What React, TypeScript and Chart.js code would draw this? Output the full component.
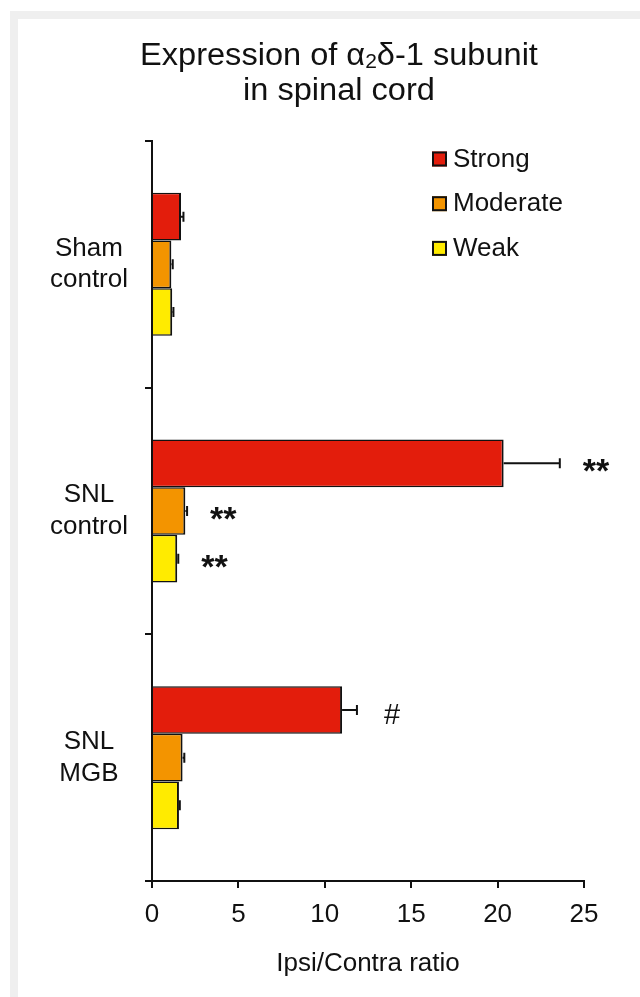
import React, { useEffect, useRef } from 'react';
import { Chart, registerables } from 'chart.js';

Chart.register(...registerables);

// ---- data ----
const categories = [['Sham', 'control'], ['SNL', 'control'], ['SNL', 'MGB']];
const seriesNames = ['Strong', 'Moderate', 'Weak'];
const strongValues = [1.68, 20.35, 11.0];
const strongErrors = [0.14, 3.25, 0.86];
const strongMarks = ['', '**', '#'];
const moderateValues = [1.12, 1.93, 1.77];
const moderateErrors = [0.08, 0.1, 0.1];
const moderateMarks = ['', '**', ''];
const weakValues = [1.17, 1.46, 1.56];
const weakErrors = [0.07, 0.06, 0.05];
const weakMarks = ['', '**', ''];
const xMin = 0;
const xMax = 25;
const xStep = 5;
const xTitle = 'Ipsi/Contra ratio';
const titleLine1 = ['Expression of α', '2', 'δ-1 subunit'];
const titleLine2 = 'in spinal cord';

// ---- styles ----
const FONT = '"Liberation Sans", Arial, Helvetica, sans-serif';
const INK = '#111111';
const colors = ['#e31d0c', '#f39400', '#ffeb00'];

const titlePlugin = {
  id: 'customTitle',
  afterDraw(chart: any) {
    const ctx = chart.ctx;
    ctx.save();
    const cx = 339;
    const sx = 1.05;
    ctx.translate(cx, 0);
    ctx.scale(sx, 1);
    ctx.fillStyle = INK;
    ctx.textBaseline = 'alphabetic';
    const big = `31px ${FONT}`;
    const small = `20px ${FONT}`;
    ctx.font = big;
    const w0 = ctx.measureText(titleLine1[0]).width;
    const w2 = ctx.measureText(titleLine1[2]).width;
    ctx.font = small;
    const w1 = ctx.measureText(titleLine1[1]).width;
    let x = -(w0 + w1 + w2) / 2;
    ctx.textAlign = 'left';
    ctx.font = big;
    ctx.fillText(titleLine1[0], x, 65);
    x += w0;
    ctx.font = small;
    ctx.fillText(titleLine1[1], x, 68);
    x += w1;
    ctx.font = big;
    ctx.fillText(titleLine1[2], x, 65);
    ctx.textAlign = 'center';
    ctx.fillText(titleLine2, 0, 100);
    ctx.restore();
  },
};

const legendPlugin = {
  id: 'customLegend',
  afterDraw(chart: any) {
    const ctx = chart.ctx;
    ctx.save();
    chart.data.datasets.forEach((ds: any, i: number) => {
      const cy = 159 + i * 44.7;
      ctx.fillStyle = ds.backgroundColor;
      ctx.fillRect(432, cy - 7.5, 15, 15);
      ctx.strokeStyle = INK;
      ctx.lineWidth = 2;
      ctx.strokeRect(433, cy - 6.5, 13, 13);
      ctx.fillStyle = INK;
      ctx.font = `26px ${FONT}`;
      ctx.textAlign = 'left';
      ctx.textBaseline = 'alphabetic';
      ctx.fillText(ds.label, 453, cy + 7.5);
    });
    ctx.restore();
  },
};

const errorPlugin = {
  id: 'errorBars',
  afterDatasetsDraw(chart: any) {
    const ctx = chart.ctx;
    const xs = chart.scales.x;
    ctx.save();
    chart.data.datasets.forEach((ds: any, di: number) => {
      const meta = chart.getDatasetMeta(di);
      meta.data.forEach((bar: any, i: number) => {
        const v = ds.data[i];
        const e = ds.errors[i];
        const x0 = xs.getPixelForValue(v);
        const x1 = xs.getPixelForValue(v + e);
        const y = bar.y;
        ctx.strokeStyle = INK;
        ctx.lineWidth = 2;
        ctx.beginPath();
        ctx.moveTo(x0, y);
        ctx.lineTo(x1, y);
        ctx.moveTo(x1, y - 5);
        ctx.lineTo(x1, y + 5);
        ctx.stroke();
        const m = ds.marks[i];
        if (m) {
          ctx.fillStyle = INK;
          ctx.textAlign = 'left';
          ctx.textBaseline = 'alphabetic';
          if (m.includes('*')) {
            ctx.font = `bold 34px ${FONT}`;
            ctx.fillText(m, x1 + 23, y + 19);
          } else {
            ctx.font = `29px ${FONT}`;
            ctx.fillText(m, x1 + 27, y + 14);
          }
        }
      });
    });
    ctx.restore();
  },
};

export default function App() {
  const ref = useRef<HTMLCanvasElement>(null);

  useEffect(() => {
    document.body.style.margin = '0';
    if (!ref.current) return;
    const valueSets = [strongValues, moderateValues, weakValues];
    const errSets = [strongErrors, moderateErrors, weakErrors];
    const markSets = [strongMarks, moderateMarks, weakMarks];
    const chart = new Chart(ref.current, {
      type: 'bar',
      data: {
        labels: categories as any,
        datasets: seriesNames.map((name, i) => ({
          label: name,
          data: valueSets[i],
          errors: errSets[i],
          marks: markSets[i],
          backgroundColor: colors[i],
          borderColor: INK,
          borderWidth: { top: 1.5, bottom: 1.5, right: 2, left: 0 },
          borderSkipped: 'start',
          categoryPercentage: 0.58,
          barPercentage: 1,
        })) as any,
      },
      options: {
        indexAxis: 'y',
        animation: false,
        responsive: false,
        devicePixelRatio: 1,
        layout: { padding: { top: 141, right: 56, bottom: 0, left: 0 } },
        plugins: {
          legend: { display: false },
          title: { display: false },
          tooltip: { enabled: false },
        },
        scales: {
          x: {
            type: 'linear',
            min: xMin,
            max: xMax,
            ticks: {
              stepSize: xStep,
              color: INK,
              font: { family: FONT, size: 26 },
              padding: 11,
            },
            grid: {
              drawOnChartArea: false,
              drawTicks: true,
              tickLength: 7,
              color: INK,
              lineWidth: 2,
            },
            border: { display: true, color: INK, width: 2 },
            title: {
              display: true,
              text: xTitle,
              color: INK,
              font: { family: FONT, size: 26 },
              padding: { top: 0, bottom: 18 },
            },
            afterFit(scale: any) {
              scale.height = 116;
            },
          },
          y: {
            type: 'category',
            offset: true,
            ticks: {
              color: INK,
              font: { family: FONT, size: 26, lineHeight: 1.22 },
              crossAlign: 'center',
              padding: 17,
              autoSkip: false,
            },
            grid: {
              offset: true,
              drawOnChartArea: false,
              drawTicks: true,
              tickLength: 7,
              color: INK,
              lineWidth: 2,
            },
            border: { display: true, color: INK, width: 2 },
            afterFit(scale: any) {
              scale.width = 152;
            },
          },
        },
      } as any,
      plugins: [titlePlugin, legendPlugin, errorPlugin],
    });
    return () => chart.destroy();
  }, []);

  return (
    <div style={{ position: 'relative', width: 640, height: 997, overflow: 'hidden', background: '#ffffff' }}>
      <div
        style={{
          position: 'absolute',
          left: 10,
          top: 11,
          width: 630,
          height: 986,
          boxSizing: 'border-box',
          borderTop: '8px solid #efefef',
          borderLeft: '8px solid #efefef',
          background: '#ffffff',
        }}
      />
      <canvas ref={ref} width={640} height={997} style={{ position: 'absolute', left: 0, top: 0 }} />
    </div>
  );
}
